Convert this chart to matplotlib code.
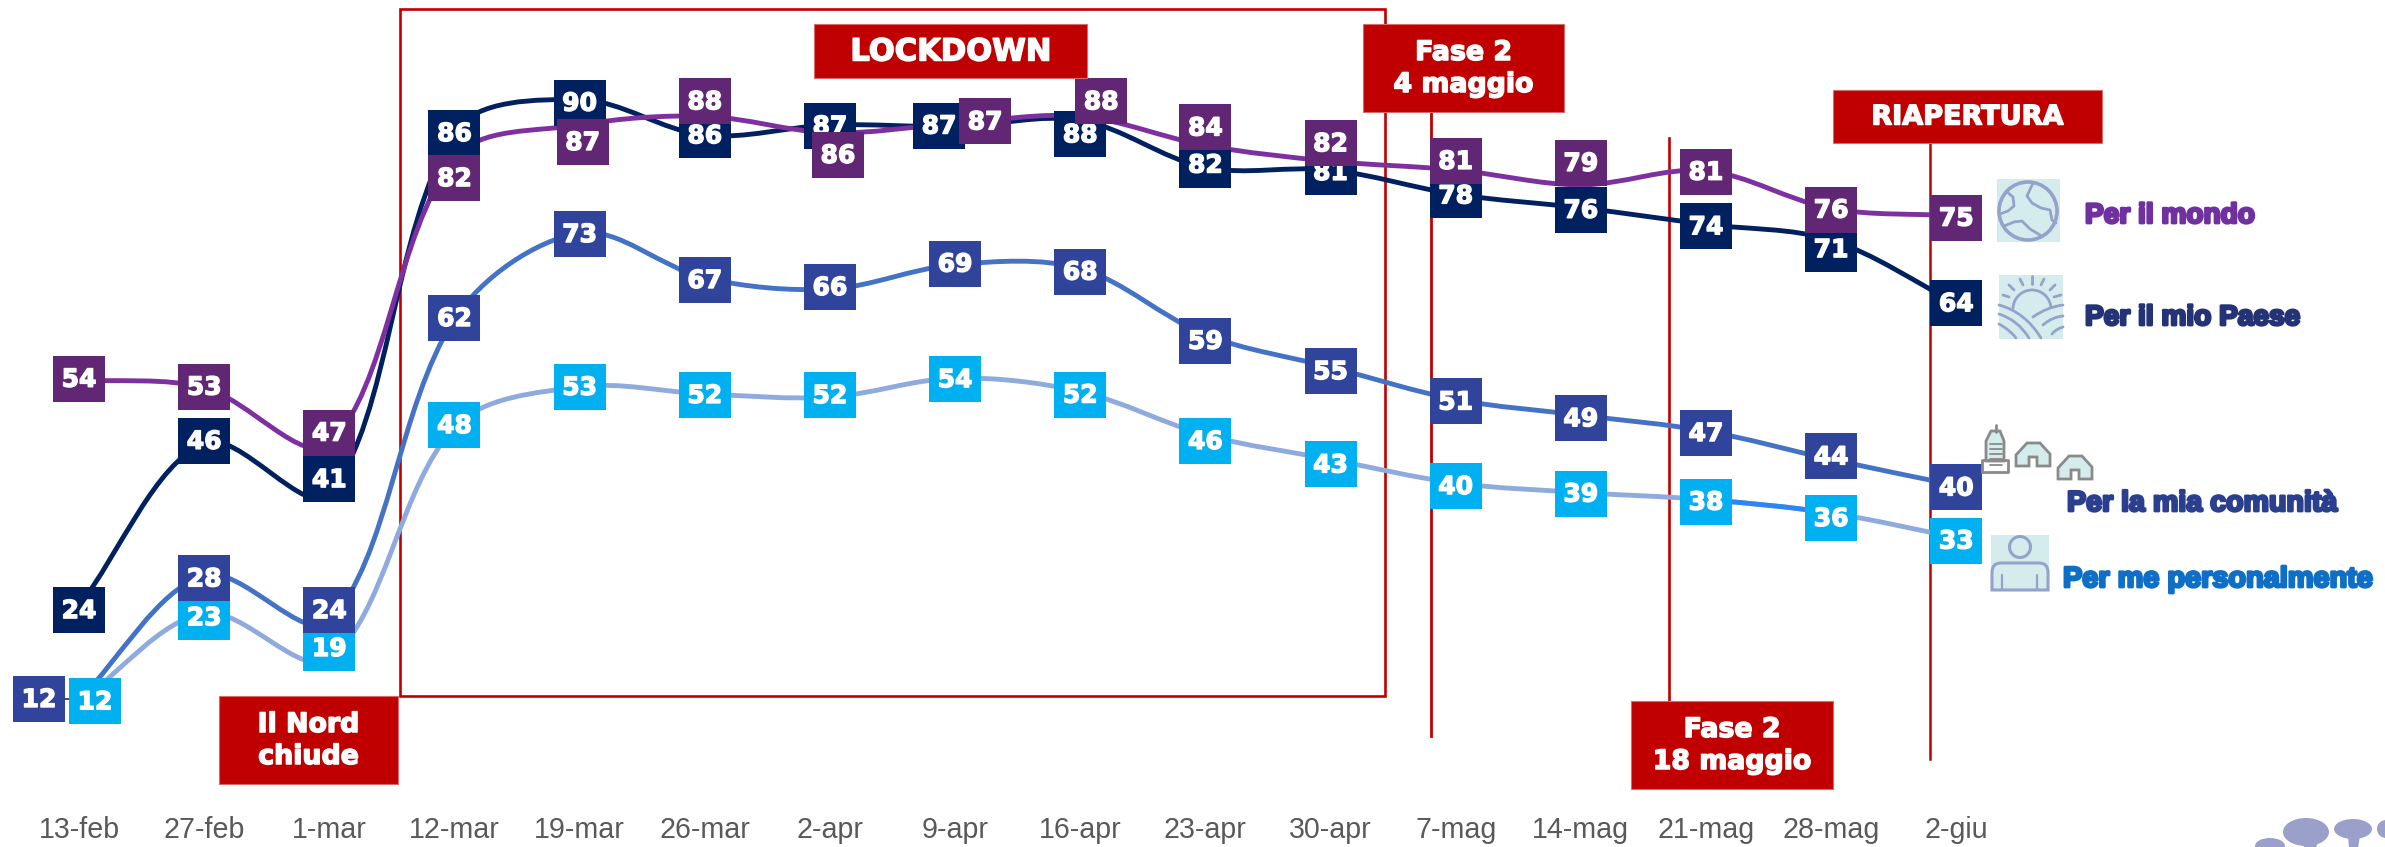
import matplotlib
matplotlib.use('Agg')
import matplotlib.pyplot as plt
import matplotlib.patheffects as pe
from matplotlib.patches import Rectangle, Circle, Ellipse, PathPatch, Polygon
from matplotlib.path import Path
from matplotlib.transforms import Affine2D

plt.rcParams['font.family'] = ['Liberation Sans', 'DejaVu Sans']

dates = ['13-feb', '27-feb', '1-mar', '12-mar', '19-mar', '26-mar', '2-apr', '9-apr',
         '16-apr', '23-apr', '30-apr', '7-mag', '14-mag', '21-mag', '28-mag', '2-giu']

# numbers printed in the boxes
mondo_labels = [54, 53, 47, 82, 87, 88, 86, 87, 88, 84, 82, 81, 79, 81, 76, 75]
paese_labels = [24, 46, 41, 86, 90, 86, 87, 87, 88, 82, 81, 78, 76, 74, 71, 64]
comunita_labels = [12, 28, 24, 62, 73, 67, 66, 69, 68, 59, 55, 51, 49, 47, 44, 40]
personale_labels = [12, 23, 19, 48, 53, 52, 52, 54, 52, 46, 43, 40, 39, 38, 36, 33]

# where the lines really run
mondo_line = [54.3, 53.3, 46.2, 82.4, 86.6, 87.7, 85.6, 86.8, 87.7, 84.0, 82.0, 80.9, 79.0, 80.8, 76.0, 75.1]
paese_line = [25.6, 46.3, 39.8, 85.7, 89.8, 85.3, 86.6, 86.4, 87.2, 81.2, 80.9, 77.8, 76.1, 74.0, 72.0, 64.0]
comunita_line = [13.7, 29.5, 23.7, 62.0, 72.9, 67.2, 65.8, 68.9, 68.4, 60.0, 55.9, 51.8, 49.8, 47.8, 44.2, 40.9]
personale_line = [13.4, 24.7, 18.9, 48.3, 53.4, 52.5, 52.1, 54.5, 52.8, 47.3, 44.2, 41.2, 40.0, 39.1, 37.4, 34.3]

# box offsets from the line point, in pixels (hand placed in the original)
mondo_dy = [-1, -1, -11, 20, 17, -15, 22, -2, -15, -18, -18, -9, -22, 1, 1, 2]
paese_dy = [4, -2, -15, 1, 3, 0, 1, -1, 14, -3, 2, 1, 2, 2, 9, 0]
comunita_dy = [-1, 3, -11, -1, 1, 2, -2, -1, 3, 6, 4, 2, 3, 2, -3, 2]
personale_dy = [-1, 4, -11, -2, 0, 1, -2, 1, 3, 6, 5, 3, 1, 2, 5, 3]
mondo_dx = {4: 3, 6: 8, 7: 30, 8: 21}
paese_dx = {7: -16}
comunita_dx = {0: -40}
personale_dx = {0: 16}

W, H = 2385, 847
RED = '#C00000'
TEAL = '#D5ECEC'
ICON = '#93A3CB'
GREY = '#8A8A8A'
X_STEP = 125.15
Y_STEP = 7.888

fig = plt.figure(figsize=(W / 100, H / 100), dpi=100)
ax = fig.add_axes([0, 0, 1, 1])
ax.set_xlim(-79 / X_STEP, (W - 79) / X_STEP)
ax.set_ylim(53 - (H - 390) / Y_STEP, 53 + 390 / Y_STEP)
ax.axis('off')

# pixel coordinates, y down, for everything that is not data
px = Affine2D().scale(1, -1).translate(0, H)


def handles(values, i):
    # tangent at point i, split by the on-screen length of the two segments
    prev_i = max(i - 1, 0)
    next_i = min(i + 1, len(values) - 1)
    l1 = ((i - prev_i) ** 2 * X_STEP ** 2 + (values[i] - values[prev_i]) ** 2 * Y_STEP ** 2) ** 0.5
    l2 = ((next_i - i) ** 2 * X_STEP ** 2 + (values[next_i] - values[i]) ** 2 * Y_STEP ** 2) ** 0.5
    dx = next_i - prev_i
    dy = values[next_i] - values[prev_i]
    k1 = l1 / (l1 + l2) / 3
    k2 = l2 / (l1 + l2) / 3
    return (i - dx * k1, values[i] - dy * k1), (i + dx * k2, values[i] + dy * k2)


def smooth_path(values, start=0, end=None):
    end = len(values) - 1 if end is None else end
    verts = [(start, values[start])]
    codes = [Path.MOVETO]
    for i in range(start, end):
        c1 = handles(values, i)[1]
        c2 = handles(values, i + 1)[0]
        verts += [c1, c2, (i + 1, values[i + 1])]
        codes += [Path.CURVE4] * 3
    return Path(verts, codes)


def draw_line(values, color, z):
    ax.add_patch(PathPatch(smooth_path(values), fc='none', ec=color, lw=3.5, zorder=z, capstyle='round'))


def draw_boxes(labels, values, dys, dxs, color, z):
    for i, lab in enumerate(labels):
        cx, cy = ax.transData.transform((i, values[i]))
        cx = cx + dxs.get(i, 0)
        cy = H - cy + dys[i]
        ax.add_patch(Rectangle((cx - 26, cy - 23), 52, 46, fc=color, ec='none', transform=px, zorder=z))
        ax.text(cx, cy + 1, str(lab), color='white', fontsize=18, family='DejaVu Sans', fontweight='bold',
                ha='center', va='center', transform=px, zorder=z + 0.1,
                path_effects=[pe.withStroke(linewidth=1.0, foreground='white')])


def red_box(x0, y0, x1, y1, text, size=19.3):
    ax.add_patch(Rectangle((x0, y0), x1 - x0, y1 - y0, fc=RED, ec='#D96A6A', lw=0.8, transform=px, zorder=20))
    ax.text((x0 + x1) / 2, (y0 + y1) / 2 + 1, text, color='white', fontsize=size, family='DejaVu Sans',
            fontweight='bold', ha='center', va='center', linespacing=1.3, transform=px, zorder=21,
            path_effects=[pe.withStroke(linewidth=1.1, foreground='white')])


# lockdown frame and vertical markers
ax.add_patch(Rectangle((400, 9), 985, 687, fc='none', ec=RED, lw=1.9, transform=px, zorder=3))
ax.plot([1431, 1431], [112, 736], color=RED, lw=2.0, transform=px, zorder=3)
ax.plot([1669, 1669], [138, 701], color=RED, lw=1.9, transform=px, zorder=3)
ax.plot([1930, 1930], [143, 759], color=RED, lw=1.8, transform=px, zorder=3)

draw_line(paese_line, '#002060', 5)
draw_line(mondo_line, '#7E2FA0', 6)
draw_line(comunita_line, '#4472C4', 5)
draw_line(personale_line, '#8FAADC', 5)
# this stretch is a brighter blue in the original
ax.add_patch(PathPatch(smooth_path(personale_line, 13, 14), fc='none', ec='#2E86F5', lw=3.5, zorder=5.1))

ax.plot([65, 77, 80], [699, 699, 701], color='black', lw=1.0, transform=px, zorder=7)

draw_boxes(personale_labels, personale_line, personale_dy, personale_dx, '#00B0F0', 8)
draw_boxes(comunita_labels, comunita_line, comunita_dy, comunita_dx, '#30449B', 9)
draw_boxes(paese_labels, paese_line, paese_dy, paese_dx, '#002060', 10)
draw_boxes(mondo_labels, mondo_line, mondo_dy, mondo_dx, '#612774', 11)

red_box(219, 696, 398, 784, 'Il Nord\nchiude')
red_box(814, 24, 1087, 78, 'LOCKDOWN', 22)
red_box(1363, 24, 1564, 112, 'Fase 2\n4 maggio')
red_box(1833, 90, 2102, 143, 'RIAPERTURA', 19.5)
red_box(1631, 701, 1833, 789, 'Fase 2\n18 maggio')

for i, d in enumerate(dates):
    cx = ax.transData.transform((i, 0))[0]
    ax.text(cx, 830, d, color='#595959', fontsize=20.6, ha='center', va='center', transform=px)

# legend text, heavy and tight like the original
legend_names = ['Per il mondo', 'Per il mio Paese', 'Per la mia comunità', 'Per me personalmente']
legend_colors = ['#7030A0', '#233375', '#2B3F8F', '#0F6FC6']
legend_x = [2085, 2085, 2067, 2063]
legend_y = [216, 318, 503, 579]
legend_size = [20.2, 20.2, 20.6, 20.8]
for name, c, x, y, s in zip(legend_names, legend_colors, legend_x, legend_y, legend_size):
    ax.text(x, y, name, color=c, fontsize=s, fontweight='bold', ha='left', va='center', transform=px,
            path_effects=[pe.withStroke(linewidth=2.0, foreground=c)])


def curve(points, color=ICON, lw=2.0, z=12):
    codes = [Path.MOVETO] + [Path.LINETO] * (len(points) - 1)
    ax.add_patch(PathPatch(Path(points, codes), fc='none', ec=color, lw=lw, transform=px, zorder=z,
                           capstyle='round', joinstyle='round'))


def arc(p0, ctrl, p1, color=ICON, lw=2.0, z=12):
    ax.add_patch(PathPatch(Path([p0, ctrl, p1], [Path.MOVETO, Path.CURVE3, Path.CURVE3]), fc='none', ec=color,
                           lw=lw, transform=px, zorder=z, capstyle='round'))


# globe
ax.add_patch(Rectangle((1997, 179), 63, 63, fc=TEAL, ec='none', transform=px, zorder=11))
ax.add_patch(Circle((2028, 211), 29, fc='none', ec=ICON, lw=2.6, transform=px, zorder=12))
curve([(2033, 183), (2027, 196), (2032, 203), (2041, 208), (2050, 210), (2052, 220), (2056, 223)])
curve([(2007, 192), (2013, 197), (2014, 206), (2008, 211), (2000, 214)])
curve([(2004, 226), (2014, 222), (2022, 221), (2030, 229), (2040, 235)])

# sun over fields
ax.add_patch(Rectangle((1999, 275), 64, 64, fc=TEAL, ec='none', transform=px, zorder=11))
ax.add_patch(PathPatch(Path.arc(180, 360).transformed(Affine2D().scale(19, 19).translate(2032, 309)),
                       fc='none', ec=ICON, lw=2.0, transform=px, zorder=12))
for r0, r1 in [((2032, 276), (2032, 284)), ((2020, 279), (2023, 285)), ((2044, 279), (2041, 285)),
               ((2009, 285), (2014, 290)), ((2055, 285), (2050, 290)), ((2003, 295), (2009, 297)),
               ((2061, 295), (2054, 297))]:
    curve([r0, r1])
arc((1999, 305), (2025, 312), (2041, 338))
arc((1999, 314), (2018, 320), (2029, 338))
arc((1999, 324), (2010, 330), (2016, 338))
arc((2033, 317), (2047, 307), (2063, 305))
arc((2043, 325), (2052, 317), (2063, 316))
arc((2052, 334), (2056, 329), (2063, 327))

# town
ax.add_patch(Polygon([(1986, 461), (1986, 441), (1991, 431), (2000, 431), (2004, 441), (2004, 461)],
                     fc=TEAL, ec=GREY, lw=2.0, transform=px, zorder=12))
curve([(1996, 425), (1996, 432)], GREY)
curve([(1982, 472), (1982, 460), (2008, 460), (2008, 472), (1982, 472)], GREY, 2.0)
for yy in [444, 449, 454, 459, 465]:
    curve([(1990, yy), (2002, yy)], GREY, 1.3)
for hx, hy in [(2016, 443), (2058, 456)]:
    ax.add_patch(Polygon([(hx, hy + 23), (hx, hy + 12), (hx + 11, hy), (hx + 24, hy), (hx + 34, hy + 11),
                          (hx + 34, hy + 23), (hx + 21, hy + 23), (hx + 21, hy + 14), (hx + 13, hy + 14),
                          (hx + 13, hy + 23)], fc=TEAL, ec=GREY, lw=2.0, transform=px, zorder=12))

# person
ax.add_patch(Rectangle((1991, 535), 58, 55, fc=TEAL, ec='none', transform=px, zorder=11))
ax.add_patch(Circle((2020, 547), 10.5, fc='none', ec=ICON, lw=2.2, transform=px, zorder=12))
ax.add_patch(PathPatch(Path([(1992, 590), (1992, 572), (1992, 563), (2001, 563), (2039, 563), (2048, 563), (2048, 572),
                             (2048, 590), (1992, 590)],
                            [Path.MOVETO, Path.LINETO, Path.CURVE3, Path.CURVE3, Path.LINETO, Path.CURVE3, Path.CURVE3,
                             Path.LINETO, Path.CLOSEPOLY]),
                       fc='none', ec=ICON, lw=2.2, transform=px, zorder=12))
curve([(2002, 575), (2002, 590)], lw=1.6)
curve([(2037, 575), (2037, 590)], lw=1.6)

# corner of the logo
LOGO = '#9BA0CA'
for cx, cy, rx, ry in [(2306, 832, 23, 14), (2353, 829, 19, 10), (2386, 829, 9, 9), (2270, 846, 15, 8)]:
    ax.add_patch(Ellipse((cx, cy), 2 * rx, 2 * ry, fc=LOGO, ec='none', transform=px))
ax.add_patch(Polygon([(2302, 840), (2319, 838), (2316, 848), (2304, 848)], fc=LOGO, ec='none', transform=px))
ax.add_patch(Polygon([(2348, 836), (2360, 836), (2358, 848), (2349, 848)], fc=LOGO, ec='none', transform=px))

fig.savefig('out.png', dpi=100, facecolor='white')
